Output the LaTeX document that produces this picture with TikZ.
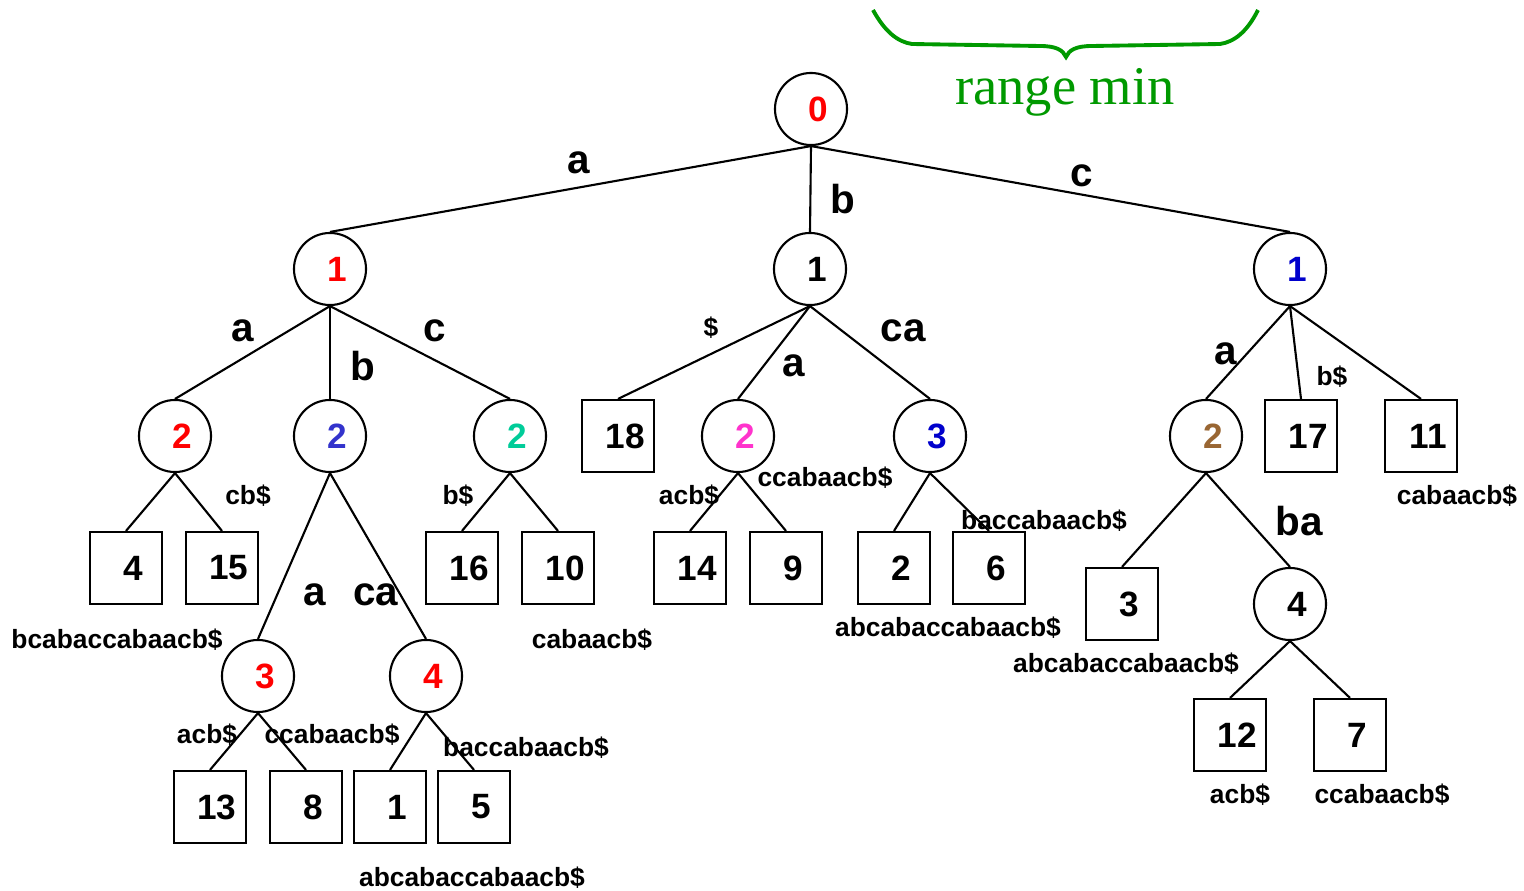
\documentclass[tikz,border=0pt]{standalone}
\usepackage{fontspec}
\setmainfont{Liberation Sans}
\newfontfamily\rmserif{Liberation Serif}
\usetikzlibrary{positioning}
\definecolor{vred}{RGB}{255,0,0}
\definecolor{vblue}{RGB}{0,0,204}
\definecolor{lblue}{RGB}{51,51,204}
\definecolor{vteal}{RGB}{0,204,153}
\definecolor{vpink}{RGB}{255,51,204}
\definecolor{vbrown}{RGB}{153,102,51}
\definecolor{rmgreen}{RGB}{0,153,0}

\begin{document}
\begin{tikzpicture}[x=0.01cm,y=-0.01cm,line width=0.6pt]
            \tikzstyle{inner node}=[circle,draw,minimum size=0.72cm,inner sep=0pt,font=\fontsize{10}{12}\selectfont\bfseries,execute at begin node=\hspace*{0.14cm}]
            \tikzstyle{leaf node}=[rectangle,draw,minimum size=0.72cm,inner sep=0pt,font=\fontsize{10}{12}\selectfont\bfseries,execute at begin node=\hspace*{0.14cm}]
            \tikzstyle{edge label}=[inner sep=0pt,font=\fontsize{11.5}{13}\selectfont\bfseries]
            \tikzstyle{suffix label}=[inner sep=0pt,font=\fontsize{7.5}{9}\selectfont\bfseries]
            \useasboundingbox (0,0) rectangle (1524,891);
            % internal nodes
            \node[inner node,text=vred] (n0) at (811,109) {0};
            \node[inner node,text=vred] (na) at (330,269) {1};
            \node[inner node] (nb) at (810,269) {1};
            \node[inner node,text=vblue] (nc) at (1290,269) {1};
            \node[inner node,text=vred] (naa) at (175,436) {2};
            \node[inner node,text=lblue] (nab) at (330,436) {2};
            \node[inner node,text=vteal] (nac) at (510,436) {2};
            \node[inner node,text=vpink] (nba) at (738,436) {2};
            \node[inner node,text=vblue] (nbc) at (930,436) {3};
            \node[inner node,text=vbrown] (nca) at (1206,436) {2};
            \node[inner node,text=vred] (naba) at (258,676) {3};
            \node[inner node,text=vred] (nabc) at (426,676) {4};
            \node[inner node] (ncab) at (1290,604) {4};
            % leaves
            \node[leaf node] (l18) at (618,436) {18};
            \node[leaf node] (l17) at (1301,436) {17};
            \node[leaf node] (l11) at (1421,436) {11};
            \node[leaf node] (l4) at (126,568) {4};
            \node[leaf node] (l15) at (222,568) {15};
            \node[leaf node] (l16) at (462,568) {16};
            \node[leaf node] (l10) at (558,568) {10};
            \node[leaf node] (l14) at (690,568) {14};
            \node[leaf node] (l9) at (786,568) {9};
            \node[leaf node] (l2) at (894,568) {2};
            \node[leaf node] (l6) at (989,568) {6};
            \node[leaf node] (l3) at (1122,604) {3};
            \node[leaf node] (l13) at (210,807) {13};
            \node[leaf node] (l8) at (306,807) {8};
            \node[leaf node] (l1) at (390,807) {1};
            \node[leaf node] (l5) at (474,807) {5};
            \node[leaf node] (l12) at (1230,735) {12};
            \node[leaf node] (l7) at (1350,735) {7};
            % edges
            \foreach \p/\c in {n0/na,n0/nb,n0/nc,na/naa,na/nab,na/nac,nb/l18,nb/nba,nb/nbc,
                nc/nca,nc/l17,nc/l11,naa/l4,naa/l15,nab/naba,nab/nabc,nac/l16,nac/l10,
                nba/l14,nba/l9,nbc/l2,nbc/l6,nca/l3,nca/ncab,naba/l13,naba/l8,
                nabc/l1,nabc/l5,ncab/l12,ncab/l7}
              \draw (\p.south) -- (\c.north);
            % edge labels
            \node[edge label] (e0a) at (579,163) {a};
            \node[edge label] (e0b) at (843,199) {b};
            \node[edge label] (e0c) at (1082,176) {c};
            \node[edge label] (eaa) at (243,331) {a};
            \node[edge label] (eab) at (363,366) {b};
            \node[edge label] (eac) at (435,331) {c};
            \node[suffix label] (ebs) at (711,328) {\$};
            \node[edge label] (eba) at (794,366) {a};
            \node[edge label] (ebc) at (903,331) {ca};
            \node[edge label] (eca) at (1226,354) {a};
            \node[suffix label] (ecb) at (1332,377) {b\$};
            \node[suffix label] (ecc) at (1457,496) {cabaacb\$};
            \node[suffix label] (s4) at (117,640) {bcabaccabaacb\$};
            \node[suffix label] (s15) at (248,496) {cb\$};
            \node[edge label] (eaba) at (315,595) {a};
            \node[edge label] (eabc) at (376,595) {ca};
            \node[suffix label] (s16) at (458,496) {b\$};
            \node[suffix label] (s10) at (592,640) {cabaacb\$};
            \node[suffix label] (s14) at (689,496) {acb\$};
            \node[suffix label] (s9) at (825,478) {ccabaacb\$};
            \node[suffix label] (s6) at (1044,521) {baccabaacb\$};
            \node[suffix label] (s2) at (948,628) {abcabaccabaacb\$};
            \node[edge label] (ecab) at (1299,521) {ba};
            \node[suffix label] (s3) at (1126,664) {abcabaccabaacb\$};
            \node[suffix label] (s13) at (207,735) {acb\$};
            \node[suffix label] (s8) at (332,735) {ccabaacb\$};
            \node[suffix label] (s5) at (526,748) {baccabaacb\$};
            \node[suffix label] (s1) at (472,878) {abcabaccabaacb\$};
            \node[suffix label] (s12) at (1240,795) {acb\$};
            \node[suffix label] (s7) at (1382,795) {ccabaacb\$};
            % range min brace
            \draw[rmgreen,line width=1.1pt] (873,10) .. controls (885,32) and (898,42) .. (912,44)
              -- (1040,46) .. controls (1056,46) and (1063,50) .. (1066,57)
              .. controls (1069,50) and (1076,46) .. (1092,46) -- (1220,44)
              .. controls (1234,42) and (1247,32) .. (1258,10);
            \node[text=rmgreen,font=\rmserif\fontsize{15.5}{18}\selectfont] (rangemin) at (1065,92) {range min};
          \end{tikzpicture}
\end{document}
